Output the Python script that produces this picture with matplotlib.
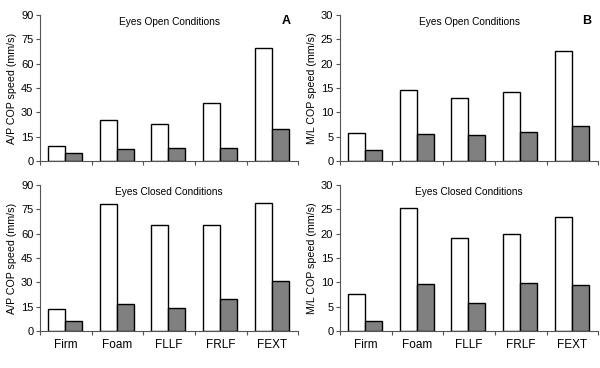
import numpy as np
import matplotlib.pyplot as plt

plt.rcParams['font.family'] = ['Liberation Sans', 'DejaVu Sans']

conditions = ['Firm', 'Foam', 'FLLF', 'FRLF', 'FEXT']

# panel A: A/P COP speed
ap_open_white = [9.3, 25.5, 22.8, 35.8, 69.7]
ap_open_grey = [5.1, 7.6, 8.0, 8.0, 19.9]
ap_closed_white = [13.6, 78.4, 65.4, 65.2, 78.6]
ap_closed_grey = [6.2, 16.7, 14.0, 19.7, 31.0]

# panel B: M/L COP speed
ml_open_white = [5.8, 14.6, 12.9, 14.2, 22.5]
ml_open_grey = [2.2, 5.5, 5.3, 6.0, 7.1]
ml_closed_white = [7.5, 25.3, 19.1, 19.9, 23.5]
ml_closed_grey = [2.1, 9.7, 5.7, 9.8, 9.4]

fig = plt.figure(figsize=(6, 3.68), dpi=100)

panels = [
    ([0.067, 0.5625, 0.43, 0.397], ap_open_white, ap_open_grey, 90, 15,
     'A/P COP speed (mm/s)', 'Eyes Open Conditions', 'A', False),
    ([0.567, 0.5625, 0.43, 0.397], ml_open_white, ml_open_grey, 30, 5,
     'M/L COP speed (mm/s)', 'Eyes Open Conditions', 'B', False),
    ([0.067, 0.1005, 0.43, 0.397], ap_closed_white, ap_closed_grey, 90, 15,
     'A/P COP speed (mm/s)', 'Eyes Closed Conditions', None, True),
    ([0.567, 0.1005, 0.43, 0.397], ml_closed_white, ml_closed_grey, 30, 5,
     'M/L COP speed (mm/s)', 'Eyes Closed Conditions', None, True),
]

x = np.arange(len(conditions))
w = 0.33
for rect, white, grey, ymax, step, ylab, title, letter, show_x in panels:
    ax = fig.add_axes(rect)
    ax.bar(x + 0.485 - w / 2, white, w, color='white', edgecolor='black', linewidth=1.0)
    ax.bar(x + 0.485 + w / 2, grey, w, color='#808080', edgecolor='black', linewidth=1.0)
    ax.set_xlim(0, len(conditions))
    ax.set_ylim(0, ymax)
    ax.set_yticks(np.arange(0, ymax + 1, step))
    ax.set_xticks(np.arange(len(conditions) + 1))
    ax.set_xticklabels([])
    ax.set_xticks(x + 0.5, minor=True)
    if show_x:
        ax.set_xticklabels(conditions, minor=True)
    ax.tick_params(axis='x', which='minor', length=0, labelsize=8.5, pad=6)
    ax.tick_params(axis='both', which='major', length=3, width=0.8, color='#555555', labelsize=8, pad=2)
    for s in ['top', 'right']:
        ax.spines[s].set_visible(False)
    for s in ['left', 'bottom']:
        ax.spines[s].set_color('#555555')
        ax.spines[s].set_linewidth(0.8)
    ax.set_ylabel(ylab, fontsize=7.7, labelpad=3)
    ax.text(0.5, 0.985, title, transform=ax.transAxes, ha='center', va='top', fontsize=7.3)
    if letter:
        ax.text(0.955, 1.0, letter, transform=ax.transAxes, ha='center', va='top',
                fontsize=9, fontweight='bold')

fig.savefig('out.png', dpi=100)
